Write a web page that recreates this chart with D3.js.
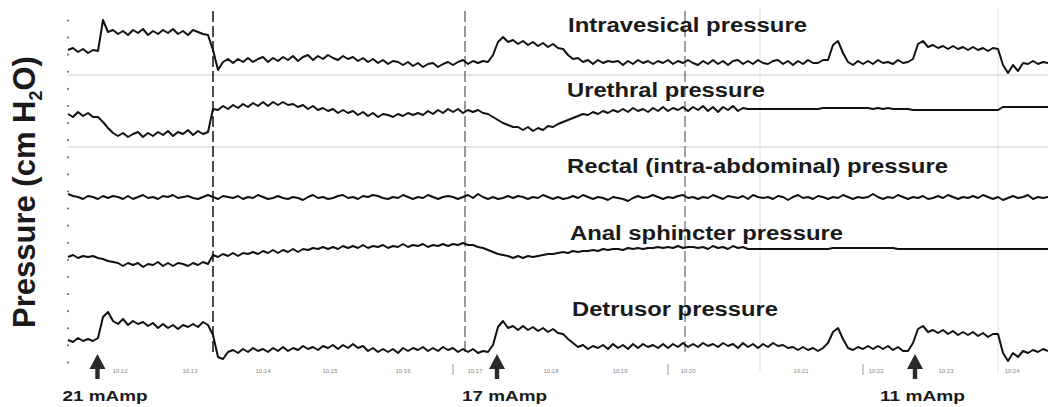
<!DOCTYPE html>
<html><head><meta charset="utf-8">
<script src="https://cdn.jsdelivr.net/npm/d3@7"></script>
<style>html,body{margin:0;padding:0;background:#fff;overflow:hidden}</style>
</head><body>
<svg id="chart" width="1048" height="407"></svg>
<script>
// ---- data (pressure readings, cm H2O relative to each channel's base; one sample per time step) ----
const channelNames = ["Intravesical pressure","Urethral pressure","Rectal (intra-abdominal) pressure","Anal sphincter pressure","Detrusor pressure"];
const intravesical = [
25,27,23,26,22,25,24,55,43,45, 41,44,40,45,42,46,40,44,41,45, 42,46,41,44,40,45,43,41,40,25,
5,13,16,12,16,13,17,13,16,18, 13,17,14,18,15,19,14,18,20,15, 19,16,20,17,15,19,16,18,14,17,
13,16,12,15,11,14,13,10,13,9, 12,8,11,12,8,11,13,10,13,15, 11,14,12,14,13,20,33,38,33,35,
31,34,30,33,29,32,28,31,27,26, 20,16,17,13,15,11,15,12,14,13, 14,10,14,11,15,12,14,11,14,12,
15,11,14,12,15,12,10,14,11,15, 11,14,10,14,15,11,14,11,15,12, 11,14,15,11,14,10,14,11,15,12,
12,15,15,30,34,22,13,10,14,11, 14,11,15,12,13,11,15,12,13,16, 31,34,28,30,27,29,26,29,26,28,
25,28,25,27,24,27,26,10,2,10, 4,12,11,14,11,13,12];
const urethral = [
33,30,35,31,34,30,30,25,19,14, 11,14,10,13,15,10,14,11,15,12, 16,11,15,13,17,12,16,13,15,38,
37,41,38,42,39,43,40,44,41,45, 41,45,42,45,42,43,40,42,38,41, 37,39,36,38,34,37,34,36,32,35,
31,34,30,33,32,30,33,31,34,32, 34,32,36,33,37,34,38,35,38,34, 37,35,37,34,33,30,27,24,22,20,
20,17,20,16,19,17,21,20,23,25, 27,29,31,33,32,35,33,36,34,37, 35,38,35,39,36,38,35,39,36,40,
36,39,37,40,36,40,37,41,36,40, 35,40,37,41,36,39,38,38,38,38, 38,38,38,38,38,38,38,38,38,38,
38,39,39,39,39,39,39,39,39,39, 39,38,39,38,39,38,38,38,38,37, 37,37,37,37,37,37,37,37,37,37,
37,37,37,37,37,37,37,40,40,40, 40,40,40,40,40,40,40];
const rectal = [
26,24,23,21,24,23,21,24,22,24, 23,21,24,21,23,25,22,23,21,24, 23,25,22,23,24,22,21,23,25,23,
21,24,23,22,24,21,23,22,25,23, 21,22,24,22,21,23,22,20,23,25, 22,23,21,22,24,25,22,23,21,24,
23,25,24,22,21,23,22,25,23,21, 23,22,25,23,21,23,24,23,21,23, 25,22,26,23,21,23,21,22,24,22,
24,23,21,23,22,25,23,21,23,21, 22,24,22,25,23,21,23,22,20,23, 22,21,19,22,24,22,23,25,23,21,
23,22,24,25,22,23,21,23,22,25, 23,21,24,23,22,24,21,25,23,22, 23,21,24,23,20,23,25,22,23,21,
24,23,21,23,22,25,23,21,23,22, 23,26,23,21,23,22,25,23,21,23, 22,24,21,22,24,22,25,23,21,23,
22,24,22,25,23,21,23,20,22,24, 22,23,25,21,23,22,23];
const anal = [
18,20,17,19,18,19,17,16,14,13, 12,9,12,10,12,8,11,10,13,9, 12,9,12,11,9,12,10,13,11,20,
18,21,19,22,19,22,21,23,21,24, 22,25,22,25,23,26,23,26,25,27, 26,28,26,28,26,29,27,29,27,30,
27,29,28,30,27,29,28,31,28,30, 29,31,28,30,29,31,29,31,30,32, 30,30,28,27,25,23,21,20,19,17,
19,17,19,18,19,20,21,21,22,23, 22,24,23,24,24,25,24,26,25,26, 26,25,27,26,27,26,27,27,28,27,
28,27,29,27,28,28,27,28,26,29, 27,28,26,29,27,28,26,26,26,26, 26,26,26,26,26,26,26,26,26,26,
26,26,26,27,27,27,27,27,27,27, 27,27,27,27,27,27,26,26,26,26, 26,26,26,26,26,26,26,26,26,26,
26,26,26,26,26,26,26,26,26,26, 26,26,26,26,26,26,26];
const detrusor = [
25,23,27,24,26,24,27,48,53,44, 41,46,40,44,41,43,39,42,37,41, 37,40,36,40,38,41,38,43,40,30,
8,6,13,15,12,16,13,17,14,16, 13,17,14,18,14,17,15,19,16,18, 15,19,17,20,16,20,17,21,17,19,
14,17,13,16,13,16,12,17,14,17, 15,18,14,17,14,18,15,17,13,16, 13,16,12,14,13,20,38,44,37,39,
35,39,35,38,34,37,33,36,32,31, 26,22,18,20,16,19,17,20,16,21, 17,20,16,21,17,21,18,20,17,21,
17,21,18,22,18,21,18,22,19,21, 18,22,19,21,17,22,18,21,17,21, 18,22,19,20,17,18,15,18,15,17,
14,17,22,33,37,26,17,15,18,16, 19,16,19,16,19,15,18,14,14,22, 36,39,33,35,32,35,31,34,30,33,
30,33,29,32,28,31,31,12,4,12, 8,14,12,15,13,16,14];
const seriesList = [intravesical, urethral, rectal, anal, detrusor];
// event markers (sample index)
const darkMarkers = [29, 79.4, 123.4];
const faintMarkers = [138.4, 186];
const stimTimes = [5.9, 85.8, 169.4];
const stimLabels = ["21 mAmp", "17 mAmp", "11 mAmp"];
const clockTicks = [77, 120, 159];
const clockTimes = [10.4, 24.4, 39, 52.4, 67, 81.4, 96.6, 110.4, 124, 146.6, 161.6, 175.6, 188.8];
const clockLabels = ["10:12","10:13","10:14","10:15","10:16","10:17","10:18","10:19","10:20","10:21","10:22","10:23","10:24"];
const axisTickValues = d3.range(0, 101, 5);

// ---- layout ----
const svg = d3.select("#chart");
const N = intravesical.length;
const x = d3.scaleLinear().domain([0, N - 1]).range([68, 1048]);
const bases = [75, 147, 220, 275, 365];
const labelPos = [[568, 32, 239], [567, 97, 198], [567, 173, 381], [570, 240, 273], [572, 316, 206]];
const markerColor = ["#222", "#555", "#666"];

// separators
svg.selectAll("line.sep").data([0, 1]).join("line")
  .attr("x1", 68).attr("x2", 1048)
  .attr("y1", i => bases[i]).attr("y2", i => bases[i])
  .attr("stroke", "#e4e4e4").attr("stroke-width", 2);

// faint vertical lines
svg.selectAll("line.faint").data(faintMarkers).join("line")
  .attr("x1", d => x(d)).attr("x2", d => x(d)).attr("y1", 8).attr("y2", 372)
  .attr("stroke", "#e6e6e6").attr("stroke-width", 1.2);

// dark dashed vertical lines
svg.selectAll("line.dark").data(darkMarkers).join("line")
  .attr("x1", d => x(d)).attr("x2", d => x(d)).attr("y1", 11).attr("y2", 352)
  .attr("stroke", (d, i) => markerColor[i]).attr("stroke-width", (d, i) => i === 0 ? 1.6 : 1.2)
  .attr("stroke-dasharray", "11,4");

// left axis dots
const yAxisScale = d3.scaleLinear().domain([0, 100]).range([362, 20]);
const axis = d3.axisLeft(yAxisScale).tickValues(axisTickValues).tickSize(0).tickFormat("");
const gAxis = svg.append("g").attr("transform", "translate(68,0)").call(axis);
gAxis.select(".domain").remove();
gAxis.selectAll(".tick").append("circle").attr("r", 1.1).attr("fill", "#777");

// traces
seriesList.forEach((data, k) => {
  const y = d3.scaleLinear().domain([0, 60]).range([bases[k], bases[k] - 60]);
  const line = d3.line().x((d, i) => x(i)).y(d => y(d));
  svg.append("path").datum(data).attr("d", line)
    .attr("fill", "none").attr("stroke", "#111").attr("stroke-width", 2)
    .attr("stroke-linejoin", "round");
});

// channel labels
svg.selectAll("text.ch").data(channelNames).join("text")
  .attr("x", (d, i) => labelPos[i][0]).attr("y", (d, i) => labelPos[i][1])
  .attr("textLength", (d, i) => labelPos[i][2]).attr("lengthAdjust", "spacingAndGlyphs")
  .attr("font-family", "Liberation Sans, Arial, sans-serif").attr("font-weight", "bold")
  .attr("font-size", 20).attr("fill", "#1a1a1a").text(d => d);

// clock labels and ticks
svg.selectAll("text.clk").data(clockTimes).join("text")
  .attr("x", d => x(d)).attr("y", 373).attr("text-anchor", "middle")
  .attr("font-family", "Liberation Sans, Arial, sans-serif").attr("font-size", 6)
  .attr("fill", "#888").text((d, i) => clockLabels[i]);
svg.selectAll("line.clkt").data(clockTicks).join("line")
  .attr("x1", d => x(d)).attr("x2", d => x(d)).attr("y1", 364).attr("y2", 375)
  .attr("stroke", "#999").attr("stroke-width", 1);

// stimulation arrows
const arr = svg.selectAll("g.arr").data(stimTimes).join("g")
  .attr("transform", d => `translate(${x(d)},0)`);
arr.append("path").attr("d", "M0,354 L-8,369 L-2.2,369 L-2.2,379 L2.2,379 L2.2,369 L8,369 Z")
  .attr("fill", "#2a2a2a");
arr.append("text").attr("x", -35).attr("y", 401)
  .attr("textLength", 85).attr("lengthAdjust", "spacingAndGlyphs")
  .attr("font-family", "Liberation Sans, Arial, sans-serif").attr("font-weight", "bold")
  .attr("font-size", 15).attr("fill", "#1a1a1a").text((d, i) => stimLabels[i]);

// y label
const yl = svg.append("text").attr("transform", "translate(35,328) rotate(-90)")
  .attr("font-family", "Liberation Sans, Arial, sans-serif").attr("font-weight", "bold")
  .attr("font-size", 31).attr("fill", "#1a1a1a");
yl.append("tspan").text("Pressure (cm H");
yl.append("tspan").attr("font-size", 18).attr("dy", 7).text("2");
yl.append("tspan").attr("dy", -7).text("O)");
</script>
</body></html>
